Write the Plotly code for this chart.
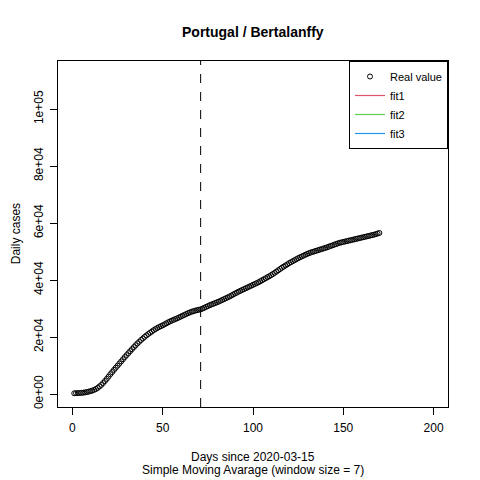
"""Portugal daily cases (7-day moving average) with Bertalanffy fit legend."""

import plotly.graph_objects as go

# Days since 2020-03-15
days = list(range(1, 171))

# Simple moving average (window size = 7)
daily_cases = [
    250, 280, 310, 350, 400, 470, 560, 680, 830, 1000,
    1200, 1450, 1750, 2150, 2650, 3200, 3850, 4550, 5300, 6100,
    6950, 7700, 8450, 9200, 9950, 10700, 11450, 12200, 12950, 13650,
    14350, 15050, 15750, 16450, 17100, 17750, 18350, 18950, 19500, 20050,
    20550, 21050, 21500, 21950, 22400, 22800, 23150, 23500, 23800, 24100,
    24450, 24800, 25150, 25450, 25750, 26000, 26300, 26550, 26850, 27150,
    27450, 27750, 28050, 28350, 28600, 28850, 29050, 29250, 29400, 29550,
    29700, 29950, 30250, 30550, 30850, 31150, 31400, 31650, 31900, 32150,
    32400, 32700, 33000, 33300, 33600, 33900, 34200, 34550, 34900, 35250,
    35550, 35900, 36200, 36500, 36800, 37100, 37400, 37700, 38000, 38300,
    38600, 38900, 39200, 39550, 39900, 40250, 40600, 41000, 41300, 41700,
    42100, 42500, 42950, 43400, 43850, 44300, 44700, 45100, 45500, 45900,
    46250, 46600, 46950, 47300, 47650, 47950, 48250, 48550, 48850, 49150,
    49400, 49650, 49850, 50050, 50250, 50450, 50650, 50850, 51050, 51250,
    51450, 51700, 51950, 52150, 52400, 52600, 52850, 53050, 53200, 53350,
    53500, 53650, 53800, 53950, 54100, 54250, 54400, 54550, 54700, 54850,
    55000, 55150, 55300, 55450, 55600, 55750, 55900, 56100, 56300, 56500,
]

cutoff_day = 71

fit_names = ["fit1", "fit2", "fit3"]
fit_colors = ["#DF536B", "#61D04F", "#2297E6"]

x_ticks = [0, 50, 100, 150, 200]
y_ticks = [0, 20000, 40000, 60000, 80000, 100000]
y_tick_labels = ["0e+00", "2e+04", "4e+04", "6e+04", "8e+04", "1e+05"]

FONT = "Liberation Sans, Arial, sans-serif"

fig = go.Figure()

fig.add_trace(
    go.Scatter(
        x=days,
        y=daily_cases,
        mode="markers",
        name="Real value",
        marker=dict(
            symbol="circle-open", size=5, color="black", line=dict(width=1)
        ),
    )
)

# fits fall outside the shown range, only the legend entries remain
for name, color in zip(fit_names, fit_colors):
    fig.add_trace(
        go.Scatter(
            x=[None],
            y=[None],
            mode="lines",
            name=name,
            line=dict(color=color, width=1.2),
        )
    )

fig.add_shape(
    type="line",
    xref="x",
    yref="paper",
    x0=cutoff_day,
    x1=cutoff_day,
    y0=0,
    y1=1,
    line=dict(color="black", width=1, dash="dash"),
)

axis_style = dict(
    showgrid=False,
    zeroline=False,
    showline=True,
    mirror=True,
    linecolor="black",
    linewidth=1,
    ticks="outside",
    ticklen=7,
    tickcolor="black",
    tickfont=dict(size=12, color="black", family=FONT),
)

fig.update_xaxes(
    range=[-8, 208], tickvals=x_ticks, ticklabelstandoff=3, **axis_style
)
fig.update_yaxes(
    range=[-4561, 116842],
    tickvals=y_ticks,
    ticktext=y_tick_labels,
    tickangle=-90,
    ticklabelstandoff=2,
    **axis_style,
)

fig.add_annotation(
    text="Days since 2020-03-15",
    xref="paper", yref="paper", x=0.5, y=-0.1445,
    showarrow=False, yanchor="middle",
    font=dict(size=12, color="black", family=FONT),
)
fig.add_annotation(
    text="Simple Moving Avarage (window size = 7)",
    xref="paper", yref="paper", x=0.5, y=-0.182,
    showarrow=False, yanchor="middle",
    font=dict(size=12, color="black", family=FONT),
)
fig.add_annotation(
    text="Daily cases",
    xref="paper", yref="paper", x=-0.107, y=0.5,
    showarrow=False, textangle=-90, xanchor="center",
    font=dict(size=12, color="black", family=FONT),
)

# the page body adds an 8px offset, so margins are trimmed to compensate
fig.update_layout(
    width=480,
    height=480,
    margin=dict(l=50, r=40, t=53, b=81),
    paper_bgcolor="white",
    plot_bgcolor="white",
    font=dict(family=FONT, color="black"),
    title=dict(
        text="<b>Portugal / Bertalanffy</b>",
        x=0.51,
        xanchor="center",
        y=0.95,
        yanchor="middle",
        font=dict(size=14, color="black", family=FONT),
    ),
    legend=dict(
        x=1,
        y=1,
        xanchor="right",
        yanchor="top",
        bordercolor="black",
        borderwidth=1,
        bgcolor="white",
        font=dict(size=11, color="black", family=FONT),
        tracegroupgap=0,
    ),
)

fig.write_html("out.html")
